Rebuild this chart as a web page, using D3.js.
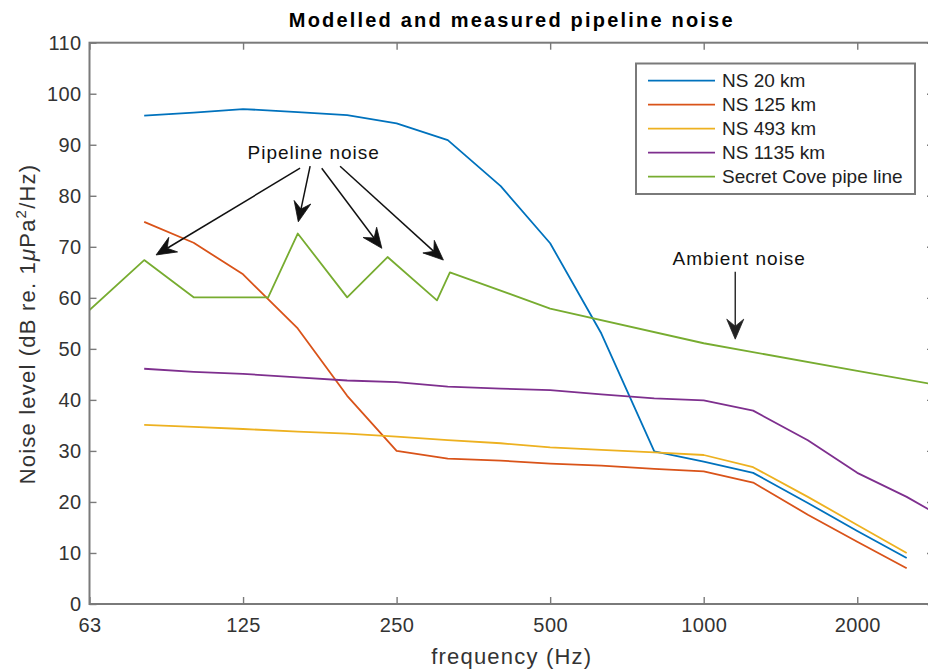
<!DOCTYPE html>
<html>
<head>
<meta charset="utf-8">
<script src="https://cdn.jsdelivr.net/npm/d3@7"></script>
<style>
body { margin: 0; background: #fff; }
svg { display: block; font-family: "Liberation Sans", Arial, sans-serif; }
</style>
</head>
<body>
<svg id="chart" width="928" height="670"></svg>
<script>
// third-octave band centres (Hz); the last band only exists for NS 1135 km
// (d3.zip stops at the shorter array)
var bands  = [80, 100, 125, 160, 200, 250, 315, 400, 500, 630, 800, 1000, 1250, 1600, 2000, 2500, 3150];
var ns20   = [95.7, 96.3, 97.0, 96.4, 95.8, 94.2, 90.9, 81.9, 70.7, 53.0, 29.9, 27.9, 25.7, 19.8, 14.3, 9.0];
var ns125  = [74.9, 70.8, 64.6, 54.0, 40.8, 30.0, 28.5, 28.1, 27.5, 27.1, 26.5, 26.0, 23.8, 17.5, 12.2, 7.0];
var ns493  = [35.1, 34.7, 34.3, 33.8, 33.4, 32.8, 32.1, 31.5, 30.7, 30.2, 29.7, 29.2, 26.8, 21.0, 15.5, 10.0];
var ns1135 = [46.1, 45.5, 45.1, 44.4, 43.8, 43.5, 42.6, 42.2, 41.9, 41.1, 40.3, 39.9, 37.9, 32.1, 25.7, 21.0, 15.3];

// measured Secret Cove curve, its own frequencies
var coveFreq  = [62.5, 80, 100, 140, 160, 200, 240, 300, 318, 500, 1000, 2000, 3150];
var coveLevel = [57.6, 67.4, 60.1, 60.1, 72.6, 60.1, 68.0, 59.5, 65.0, 57.9, 51.1, 45.7, 42.2];

var seriesNames  = ["NS 20 km", "NS 125 km", "NS 493 km", "NS 1135 km", "Secret Cove pipe line"];
var seriesColors = ["#0072bd", "#d95319", "#edb120", "#7e2f8e", "#77ac30"];

var xTicks = [62.5, 125, 250, 500, 1000, 2000];
var xTickLabels = ["63", "125", "250", "500", "1000", "2000"];
var yTicks = [0, 10, 20, 30, 40, 50, 60, 70, 80, 90, 100, 110];

// annotations, in data coords [Hz, dB]
var pipeLabel = [172, 88.6];
var pipeArrows = [
    [[161.7, 85.4], [84.4, 68.4]],
    [[169.2, 85.8], [160.4, 74.9]],
    [[178.3, 85.4], [233.9, 69.7]],
    [[193.7, 85.8], [308.8, 67.4]]
];
var ambLabel = [1174, 67.8];
var ambArrow = [[1153, 65.1], [1153, 51.9]];

var svg = d3.select("#chart");
svg.append("rect").attr("width", 928).attr("height", 670).attr("fill", "#fff");

var pL = 89.5, pR = 934, pT = 42.7, pB = 604;
var x = d3.scaleLog().domain([62.5, 2828]).range([pL, pR]);
var y = d3.scaleLinear().domain([0, 110]).range([pB, pT]);

svg.append("clipPath").attr("id", "clip")
    .append("rect").attr("x", pL).attr("y", pT)
    .attr("width", pR - pL).attr("height", pB - pT);

var plot = svg.append("g").attr("clip-path", "url(#clip)");
var line = d3.line().x(function (d) { return x(d[0]); }).y(function (d) { return y(d[1]); });

var model = [ns20, ns125, ns493, ns1135];
model.forEach(function (vals, i) {
    plot.append("path")
        .datum(d3.zip(bands, vals))
        .attr("d", line)
        .attr("fill", "none")
        .attr("stroke", seriesColors[i])
        .attr("stroke-width", 1.8)
        .attr("stroke-linejoin", "round");
});
plot.append("path")
    .datum(d3.zip(coveFreq, coveLevel))
    .attr("d", line)
    .attr("fill", "none")
    .attr("stroke", seriesColors[4])
    .attr("stroke-width", 1.8)
    .attr("stroke-linejoin", "round");

// axes (inner ticks all round, like matlab)
var axisCol = "#7a7a7a", textCol = "#333";
function styleAxis(g) {
    g.select(".domain").remove();
    g.selectAll(".tick line").attr("stroke", axisCol).attr("stroke-width", 1.4);
    g.selectAll(".tick text").attr("fill", textCol).attr("font-size", 20)
        .attr("font-family", "Liberation Sans, Arial, sans-serif").attr("letter-spacing", 0.4);
}
svg.append("g").attr("transform", "translate(0," + pB + ")")
    .call(d3.axisBottom(x).tickValues(xTicks).tickFormat(function (d, i) { return xTickLabels[i]; })
        .tickSize(-7).tickPadding(14))
    .call(styleAxis);
svg.append("g").attr("transform", "translate(0," + pT + ")")
    .call(d3.axisTop(x).tickValues(xTicks).tickFormat("").tickSize(-7))
    .call(styleAxis);
svg.append("g").attr("transform", "translate(" + pL + ",0)")
    .call(d3.axisLeft(y).tickValues(yTicks).tickSize(-7).tickPadding(8))
    .call(styleAxis);
svg.append("g").attr("transform", "translate(" + pR + ",0)")
    .call(d3.axisRight(y).tickValues(yTicks).tickFormat("").tickSize(-7))
    .call(styleAxis);

svg.append("rect")
    .attr("x", pL).attr("y", pT).attr("width", pR - pL).attr("height", pB - pT)
    .attr("fill", "none").attr("stroke", axisCol).attr("stroke-width", 2);

// title + labels
svg.append("text").attr("x", (pL + pR) / 2).attr("y", 27)
    .attr("text-anchor", "middle").attr("font-weight", "bold").attr("font-size", 20)
    .attr("letter-spacing", 2.2).attr("fill", "#000")
    .text("Modelled and measured pipeline noise");

svg.append("text").attr("x", (pL + pR) / 2).attr("y", 664)
    .attr("text-anchor", "middle").attr("font-size", 22).attr("letter-spacing", 1.2).attr("fill", textCol)
    .text("frequency (Hz)");

var yl = svg.append("text").attr("transform", "translate(35,324) rotate(-90)")
    .attr("text-anchor", "middle").attr("font-size", 22).attr("letter-spacing", 1.2).attr("fill", textCol);
yl.append("tspan").text("Noise level (dB re. 1");
yl.append("tspan").attr("font-style", "italic").text("\u03bc");
yl.append("tspan").text("Pa");
yl.append("tspan").attr("font-size", 15).attr("dy", -9).text("2");
yl.append("tspan").attr("dy", 9).text("/Hz)");

// arrows with a swept-back head
function arrow(g, from, to, col, w) {
    var x1 = x(from[0]), y1 = y(from[1]), x2 = x(to[0]), y2 = y(to[1]);
    var dx = x2 - x1, dy = y2 - y1, len = Math.hypot(dx, dy);
    var ux = dx / len, uy = dy / len, px = -uy, py = ux;
    var L = 20, W = 8.5, N = 13;
    var bx = x2 - ux * L, by = y2 - uy * L, nx = x2 - ux * N, ny = y2 - uy * N;
    g.append("line").attr("x1", x1).attr("y1", y1).attr("x2", nx).attr("y2", ny)
        .attr("stroke", col).attr("stroke-width", w);
    g.append("path")
        .attr("d", "M" + x2 + "," + y2 + "L" + (bx + px * W) + "," + (by + py * W) +
            "L" + nx + "," + ny + "L" + (bx - px * W) + "," + (by - py * W) + "Z")
        .attr("fill", col).attr("stroke", col).attr("stroke-width", 0.8).attr("stroke-linejoin", "round");
}
var ann = svg.append("g");
pipeArrows.forEach(function (a) { arrow(ann, a[0], a[1], "#111", 1.5); });
arrow(ann, ambArrow[0], ambArrow[1], "#222", 1.4);

ann.append("text").attr("x", x(pipeLabel[0])).attr("y", y(pipeLabel[1]))
    .attr("dy", "0.35em").attr("text-anchor", "middle").attr("font-size", 19)
    .attr("letter-spacing", 1).attr("fill", "#111").text("Pipeline noise");
ann.append("text").attr("x", x(ambLabel[0])).attr("y", y(ambLabel[1]))
    .attr("dy", "0.35em").attr("text-anchor", "middle").attr("font-size", 19)
    .attr("letter-spacing", 1).attr("fill", "#111").text("Ambient noise");

// legend
var lg = svg.append("g");
lg.append("rect").attr("x", 636).attr("y", 63.5).attr("width", 279).attr("height", 130.5)
    .attr("fill", "#fff").attr("stroke", axisCol).attr("stroke-width", 2);
seriesNames.forEach(function (name, i) {
    var yy = 80.7 + i * 24;
    lg.append("line").attr("x1", 648).attr("x2", 715).attr("y1", yy).attr("y2", yy)
        .attr("stroke", seriesColors[i]).attr("stroke-width", 1.8);
    lg.append("text").attr("x", 722).attr("y", yy).attr("dy", "0.35em")
        .attr("font-size", 19).attr("fill", "#222").text(name);
});
</script>
</body>
</html>
